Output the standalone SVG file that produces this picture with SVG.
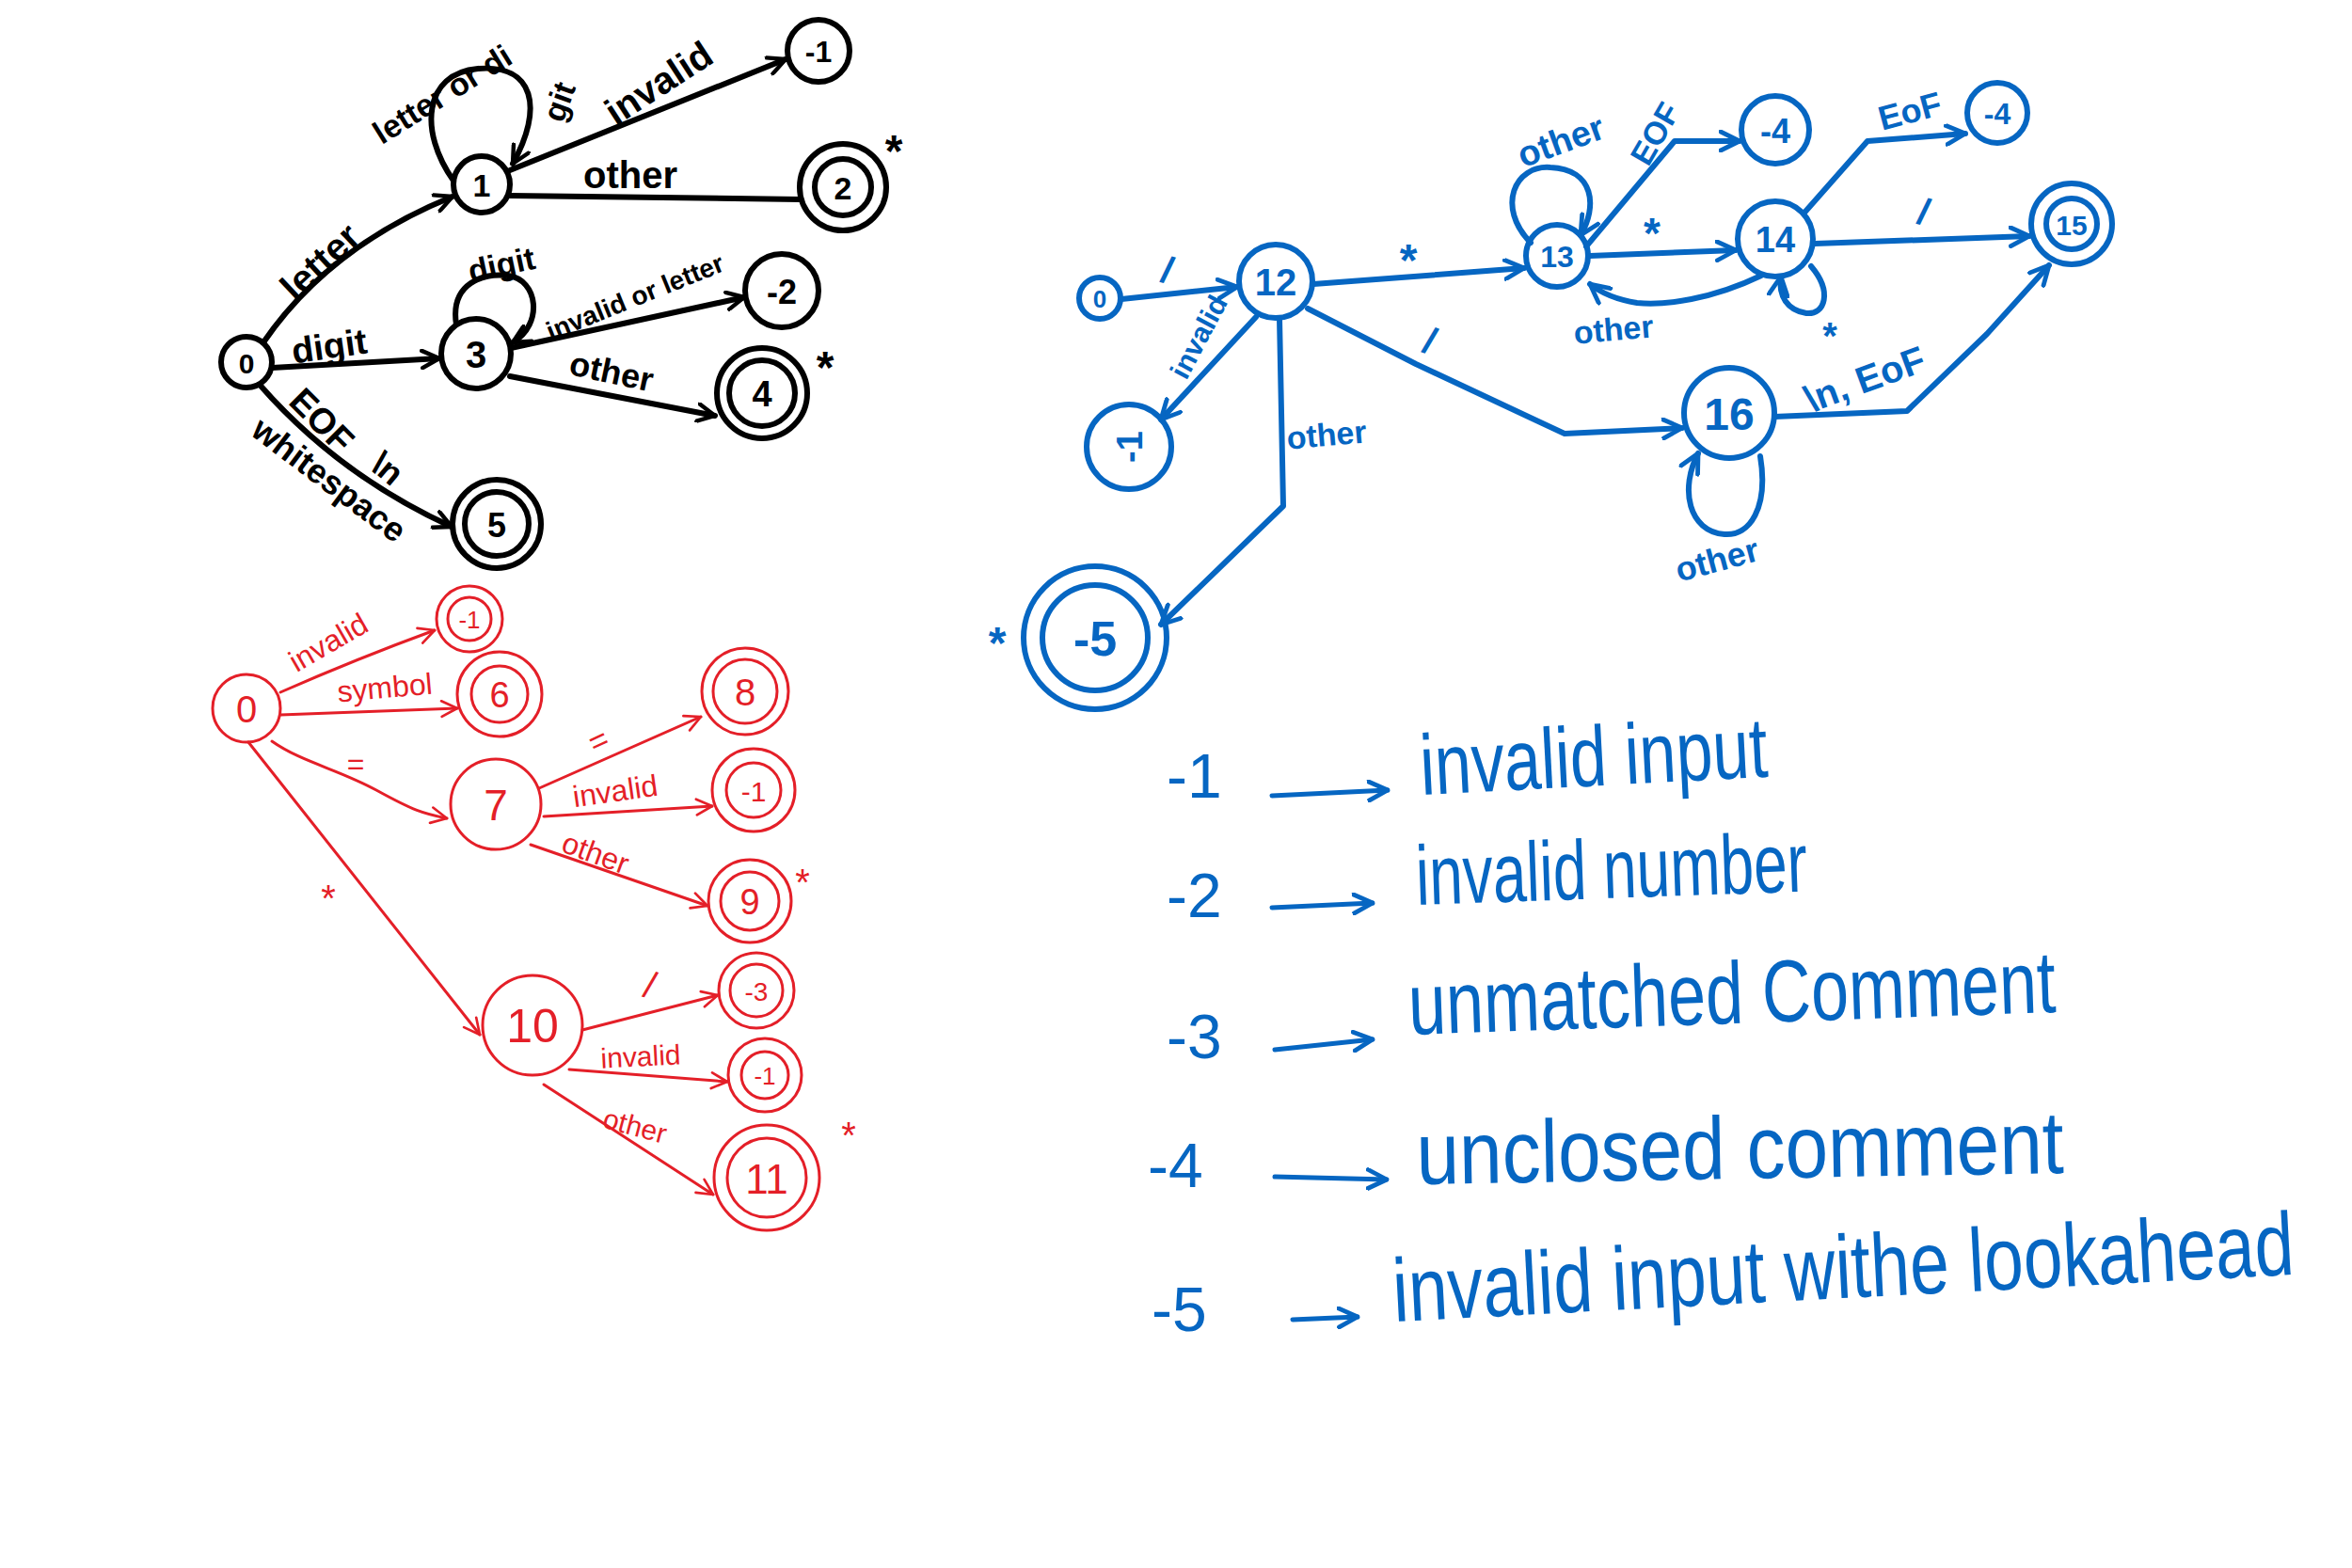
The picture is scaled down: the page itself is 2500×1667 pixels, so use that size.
<svg xmlns="http://www.w3.org/2000/svg" width="2500" height="1667" viewBox="0 0 2500 1667">
<style>
.k{stroke:#000;stroke-width:6;fill:none;stroke-linecap:round;stroke-linejoin:round}
.r{stroke:#e41f28;stroke-width:3;fill:none;stroke-linecap:round;stroke-linejoin:round}
.b{stroke:#0666c2;stroke-width:6;fill:none;stroke-linecap:round;stroke-linejoin:round}
.bl{stroke:#0666c2;stroke-width:5;fill:none;stroke-linecap:round}
text{font-family:"Liberation Sans",Arial,sans-serif;text-anchor:middle;dominant-baseline:central}
.tk{fill:#000;font-weight:bold}
.tr{fill:#e41f28}
.tb{fill:#0666c2;font-weight:bold}
.tl{fill:#0666c2;text-anchor:start;dominant-baseline:auto}
.ak{marker-end:url(#ak)}
.ar{marker-end:url(#ar)}
.ab{marker-end:url(#ab)}
</style>
<defs>
<marker id="ak" viewBox="0 0 12 12" refX="11" refY="6" markerWidth="22" markerHeight="22" markerUnits="userSpaceOnUse" orient="auto"><path d="M1,1 L11,6 L1,11" fill="none" stroke="#000" stroke-width="2.4" stroke-linecap="round" stroke-linejoin="round"/></marker>
<marker id="ar" viewBox="0 0 12 12" refX="11" refY="6" markerWidth="20" markerHeight="20" markerUnits="userSpaceOnUse" orient="auto"><path d="M1,1 L11,6 L1,11" fill="none" stroke="#e41f28" stroke-width="1.6" stroke-linecap="round" stroke-linejoin="round"/></marker>
<marker id="ab" viewBox="0 0 12 12" refX="11" refY="6" markerWidth="24" markerHeight="24" markerUnits="userSpaceOnUse" orient="auto"><path d="M1,1 L11,6 L1,11" fill="none" stroke="#0666c2" stroke-width="2.4" stroke-linecap="round" stroke-linejoin="round"/></marker>
</defs>
<rect width="2500" height="1667" fill="#fff"/>

<!-- ===== Black DFA ===== -->
<g id="black-connectors">
<path class="k ak" d="M280,364 Q350,262 481,209"/>
<path class="k ak" d="M482,192 C445,140 450,78 508,73 C568,68 578,115 545,174"/>
<path class="k ak" d="M542,181 L835,63"/>
<path class="k" d="M542,208 L851,212"/>
<path class="k ak" d="M289,391 L467,381"/>
<path class="k ak" d="M485,345 C478,300 515,290 540,293 C572,297 578,345 545,364"/>
<path class="k ak" d="M543,370 L791,316"/>
<path class="k ak" d="M542,400 L760,442"/>
<path class="k ak" d="M276,409 Q360,505 480,560"/>
<text class="tk" font-size="40" transform="rotate(-43 340 278)" x="340" y="278">letter</text>
<text class="tk" font-size="34" transform="rotate(-32 470 100)" x="470" y="100">letter or di</text>
<text class="tk" font-size="34" transform="rotate(-70 594 108)" x="594" y="108">git</text>
<text class="tk" font-size="40" transform="rotate(-33 700 88)" x="700" y="88">invalid</text>
<text class="tk" font-size="40" x="670" y="186">other</text>
<text class="tk" font-size="38" transform="rotate(-8 350 368)" x="350" y="368">digit</text>
<text class="tk" font-size="34" transform="rotate(-12 533 281)" x="533" y="281">digit</text>
<text class="tk" font-size="28" transform="rotate(-22 675 316)" x="675" y="316">invalid or letter</text>
<text class="tk" font-size="36" transform="rotate(12 650 395)" x="650" y="395">other</text>
<text class="tk" font-size="38" transform="rotate(45 342 447)" x="342" y="447">EOF</text>
<text class="tk" font-size="36" transform="rotate(40 412 498)" x="412" y="498">\n</text>
<text class="tk" font-size="36" transform="rotate(37 350 510)" x="350" y="510">whitespace</text>
</g>
<g id="b-0"><circle class="k" cx="262" cy="385" r="27"/><text class="tk" font-size="30" x="262" y="386">0</text></g>
<g id="b-1"><circle class="k" cx="512" cy="196" r="30"/><text class="tk" font-size="34" x="512" y="197">1</text></g>
<g id="b-m1"><circle class="k" cx="870" cy="54" r="33"/><text class="tk" font-size="32" x="870" y="55">-1</text></g>
<g id="b-2"><circle class="k" cx="896" cy="199" r="30"/><circle class="k" cx="896" cy="199" r="46"/><text class="tk" font-size="34" x="896" y="200">2</text><text class="tk" font-size="48" x="950" y="160">*</text></g>
<g id="b-3"><circle class="k" cx="506" cy="376" r="37"/><text class="tk" font-size="40" x="506" y="377">3</text></g>
<g id="b-m2"><circle class="k" cx="831" cy="309" r="39"/><text class="tk" font-size="36" x="831" y="310">-2</text></g>
<g id="b-4"><circle class="k" cx="810" cy="418" r="35"/><circle class="k" cx="810" cy="418" r="48"/><text class="tk" font-size="38" x="810" y="419">4</text><text class="tk" font-size="48" x="877" y="390">*</text></g>
<g id="b-5"><circle class="k" cx="528" cy="557" r="34"/><circle class="k" cx="528" cy="557" r="47"/><text class="tk" font-size="36" x="528" y="558">5</text></g>

<!-- ===== Red DFA ===== -->
<g id="red-connectors">
<path class="r ar" d="M298,736 Q380,700 462,670"/>
<path class="r ar" d="M298,760 L486,753"/>
<path class="r ar" d="M289,788 C320,810 360,818 400,840 S450,865 475,870"/>
<path class="r ar" d="M573,838 L745,762"/>
<path class="r ar" d="M578,868 L757,857"/>
<path class="r ar" d="M564,898 L752,963"/>
<path class="r ar" d="M264,789 L510,1100"/>
<path class="r ar" d="M619,1095 L763,1058"/>
<path class="r ar" d="M605,1137 L773,1150"/>
<path class="r ar" d="M578,1153 L758,1270"/>
<text class="tr" font-size="32" transform="rotate(-30 349 683)" x="349" y="683">invalid</text>
<text class="tr" font-size="32" transform="rotate(-5 409 731)" x="409" y="731">symbol</text>
<text class="tr" font-size="32" x="378" y="812">=</text>
<text class="tr" font-size="34" transform="rotate(-25 636 787)" x="636" y="787">=</text>
<text class="tr" font-size="32" transform="rotate(-8 654 841)" x="654" y="841">invalid</text>
<text class="tr" font-size="32" transform="rotate(20 633 907)" x="633" y="907">other</text>
<text class="tr" font-size="40" x="349" y="955">*</text>
<text class="tr" font-size="40" transform="rotate(15 691 1047)" x="691" y="1047">/</text>
<text class="tr" font-size="30" transform="rotate(-3 681 1123)" x="681" y="1123">invalid</text>
<text class="tr" font-size="30" transform="rotate(15 675 1197)" x="675" y="1197">other</text>
</g>
<g id="r-0"><circle class="r" cx="262" cy="753" r="36"/><text class="tr" font-size="40" x="262" y="754">0</text></g>
<g id="r-m1a"><circle class="r" cx="499" cy="658" r="23"/><circle class="r" cx="499" cy="658" r="35"/><text class="tr" font-size="26" x="499" y="659">-1</text></g>
<g id="r-6"><circle class="r" cx="531" cy="738" r="30"/><circle class="r" cx="531" cy="738" r="45"/><text class="tr" font-size="38" x="531" y="739">6</text></g>
<g id="r-8"><circle class="r" cx="792" cy="735" r="34"/><circle class="r" cx="792" cy="735" r="46"/><text class="tr" font-size="40" x="792" y="736">8</text></g>
<g id="r-7"><circle class="r" cx="527" cy="855" r="48"/><text class="tr" font-size="46" x="527" y="856">7</text></g>
<g id="r-m1b"><circle class="r" cx="801" cy="840" r="29"/><circle class="r" cx="801" cy="840" r="44"/><text class="tr" font-size="30" x="801" y="841">-1</text></g>
<g id="r-9"><circle class="r" cx="797" cy="958" r="31"/><circle class="r" cx="797" cy="958" r="44"/><text class="tr" font-size="38" x="797" y="959">9</text><text class="tr" font-size="40" x="853" y="938">*</text></g>
<g id="r-10"><circle class="r" cx="566" cy="1090" r="53"/><text class="tr" font-size="50" x="566" y="1091">10</text></g>
<g id="r-m3"><circle class="r" cx="804" cy="1053" r="28"/><circle class="r" cx="804" cy="1053" r="40"/><text class="tr" font-size="28" x="804" y="1054">-3</text></g>
<g id="r-m1c"><circle class="r" cx="813" cy="1143" r="25"/><circle class="r" cx="813" cy="1143" r="39"/><text class="tr" font-size="26" x="813" y="1144">-1</text></g>
<g id="r-11"><circle class="r" cx="815" cy="1252" r="42"/><circle class="r" cx="815" cy="1252" r="56"/><text class="tr" font-size="44" x="815" y="1253">11</text><text class="tr" font-size="40" x="902" y="1207">*</text></g>

<!-- ===== Blue DFA ===== -->
<g id="blue-connectors">
<path class="b ab" d="M1192,318 L1315,305"/>
<path class="b ab" d="M1396,302 L1620,285"/>
<path class="b ab" d="M1335,337 L1234,446"/>
<path class="b ab" d="M1360,338 L1364,538 L1234,664"/>
<path class="b ab" d="M1390,328 L1505,387 L1633,447 L1663,461 L1788,455"/>
<path class="b ab" d="M1627,258 C1590,220 1610,175 1648,178 C1695,180 1698,220 1680,250"/>
<path class="b ab" d="M1686,262 L1780,150 L1849,150"/>
<path class="b ab" d="M1690,272 L1845,266"/>
<path class="b ab" d="M1872,293 C1820,318 1770,325 1740,322 C1715,318 1700,310 1690,302"/>
<path class="b ab" d="M1925,283 C1948,310 1940,335 1920,333 C1900,330 1890,315 1893,294"/>
<path class="b ab" d="M1918,226 L1985,150 L2089,142"/>
<path class="b ab" d="M1929,259 L2157,251"/>
<path class="b ab" d="M1886,443 L2027,437 L2112,355 L2178,282"/>
<path class="b ab" d="M1871,485 C1880,540 1860,570 1833,568 C1795,565 1785,520 1805,482"/>
<text class="tb" font-size="40" transform="rotate(15 1241 287)" x="1241" y="287">/</text>
<text class="tb" font-size="48" x="1497" y="276">*</text>
<text class="tb" font-size="30" transform="rotate(-62 1274 358)" x="1274" y="358">invalid</text>
<text class="tb" font-size="34" transform="rotate(-5 1410 462)" x="1410" y="462">other</text>
<text class="tb" font-size="40" transform="rotate(20 1520 362)" x="1520" y="362">/</text>
<text class="tb" font-size="38" transform="rotate(-20 1659 150)" x="1659" y="150">other</text>
<text class="tb" font-size="34" transform="rotate(-60 1759 142)" x="1759" y="142">EOF</text>
<text class="tb" font-size="46" x="1756" y="248">*</text>
<text class="tb" font-size="34" transform="rotate(-5 1715 350)" x="1715" y="350">other</text>
<text class="tb" font-size="40" x="1945" y="357">*</text>
<text class="tb" font-size="36" transform="rotate(-15 2030 118)" x="2030" y="118">EoF</text>
<text class="tb" font-size="40" transform="rotate(15 2045 225)" x="2045" y="225">/</text>
<text class="tb" font-size="40" transform="rotate(-20 1982 403)" x="1982" y="403">\n, EoF</text>
<text class="tb" font-size="36" transform="rotate(-15 1825 595)" x="1825" y="595">other</text>
</g>
<g id="bl-0"><circle class="b" cx="1169" cy="317" r="22"/><text class="tb" font-size="26" x="1169" y="318">0</text></g>
<g id="bl-12"><circle class="b" cx="1356" cy="299" r="39"/><text class="tb" font-size="40" x="1356" y="300">12</text></g>
<g id="bl-m1"><circle class="b" cx="1200" cy="475" r="45"/><text class="tb" font-size="38" transform="rotate(-90 1200 475)" x="1200" y="476">-1</text></g>
<g id="bl-13"><circle class="b" cx="1655" cy="272" r="33"/><text class="tb" font-size="32" x="1655" y="273">13</text></g>
<g id="bl-m4a"><circle class="b" cx="1887" cy="138" r="36"/><text class="tb" font-size="36" x="1887" y="139">-4</text></g>
<g id="bl-m4b"><circle class="b" cx="2123" cy="120" r="32"/><text class="tb" font-size="32" x="2123" y="121">-4</text></g>
<g id="bl-14"><circle class="b" cx="1887" cy="254" r="40"/><text class="tb" font-size="38" x="1887" y="255">14</text></g>
<g id="bl-15"><circle class="b" cx="2202" cy="238" r="27"/><circle class="b" cx="2202" cy="238" r="43"/><text class="tb" font-size="30" x="2202" y="239">15</text></g>
<g id="bl-16"><circle class="b" cx="1838" cy="439" r="48"/><text class="tb" font-size="48" x="1838" y="440">16</text></g>
<g id="bl-m5"><circle class="b" cx="1164" cy="678" r="56"/><circle class="b" cx="1164" cy="678" r="76"/><text class="tb" font-size="52" x="1164" y="679">-5</text><text class="tb" font-size="48" x="1060" y="683">*</text></g>

<!-- ===== Legend ===== -->
<g id="legend">
<text class="tl" font-size="66" x="1240" y="848">-1</text>
<path class="bl ab" d="M1352,846 L1475,840"/>
<text class="tl" font-size="70" transform="translate(1511 845) rotate(-3) scale(1 1.3)" x="0" y="0">invalid input</text>

<text class="tl" font-size="66" x="1240" y="975">-2</text>
<path class="bl ab" d="M1352,965 L1459,960"/>
<text class="tl" font-size="64" transform="translate(1506 962) rotate(-2) scale(1 1.4)" x="0" y="0">invalid number</text>

<text class="tl" font-size="66" x="1240" y="1125">-3</text>
<path class="bl ab" d="M1355,1116 L1459,1105"/>
<text class="tl" font-size="72" transform="translate(1498 1100) rotate(-2) scale(1 1.3)" x="0" y="0">unmatched Comment</text>

<text class="tl" font-size="66" x="1220" y="1262">-4</text>
<path class="bl ab" d="M1355,1251 L1474,1254"/>
<text class="tl" font-size="82" transform="translate(1506 1259) rotate(-1) scale(1 1.15)" x="0" y="0">unclosed comment</text>

<text class="tl" font-size="66" x="1224" y="1415">-5</text>
<path class="bl ab" d="M1374,1403 L1443,1400"/>
<text class="tl" font-size="75" transform="translate(1482 1405) rotate(-3) scale(1 1.27)" x="0" y="0">invalid input withe lookahead</text>
</g>
</svg>
